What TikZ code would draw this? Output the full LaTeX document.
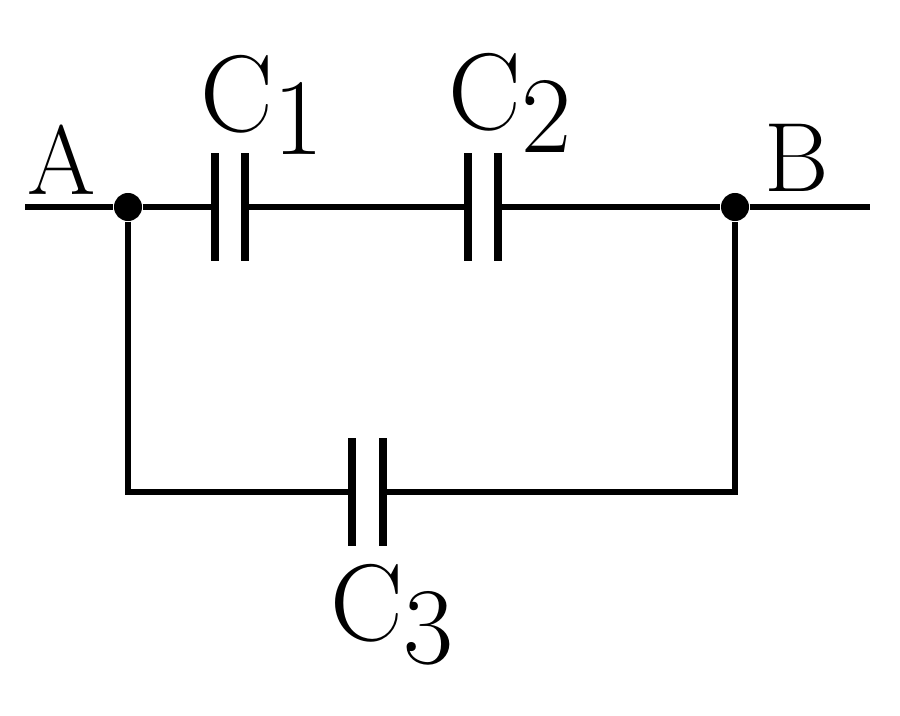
\documentclass[tikz,border=0pt]{standalone}
\usepackage{tikz}
\usetikzlibrary{calc}
\tikzset{wire/.style={line width=1.5pt},
  plate/.style={line width=2.2pt},
  junction/.style={circle,fill=black,inner sep=0pt,minimum size=0.28cm},
  lbl/.style={font=\fontsize{31}{36}\selectfont},
  pin/.style={font=\fontsize{28}{32}\selectfont}}
\begin{document}
\begin{tikzpicture}[x=0.01cm,y=-0.01cm]
  \useasboundingbox (0,0) rectangle (900,715);
  % ends and junctions
  \coordinate (left) at (25,207);
  \coordinate (right) at (870,207);
  \node[junction] (A) at (128,207) {};
  \node[junction] (B) at (735,207) {};
  \coordinate (dl) at (128,492);
  \coordinate (dr) at (735,492);
  % capacitor plates
  \coordinate (c1a) at (215,207);
  \coordinate (c1b) at (245,207);
  \coordinate (c2a) at (468,207);
  \coordinate (c2b) at (498,207);
  \coordinate (c3a) at (352,492);
  \coordinate (c3b) at (383,492);
  \draw[wire] (left) -- (A) -- (c1a) (c1b) -- (c2a) (c2b) -- (B) -- (right);
  \draw[wire] (A) -- (dl) -- (c3a) (c3b) -- (dr) -- (B);
  \foreach \p in {c1a,c1b,c2a,c2b,c3a,c3b}
    \draw[plate] ($(\p)+(0,-54)$) -- ($(\p)+(0,54)$);
  % labels
  \node[pin] (lA) at (62,160) {A};
  \node[pin] (lB) at (797,158) {B};
  \node[lbl] (l1) at (262,105) {C\raisebox{-0.5ex}{1}};
  \node[lbl] (l2) at (510,103) {C\raisebox{-0.5ex}{2}};
  \node[lbl] (l3) at (392,615) {C\raisebox{-0.5ex}{3}};
\end{tikzpicture}
\end{document}
